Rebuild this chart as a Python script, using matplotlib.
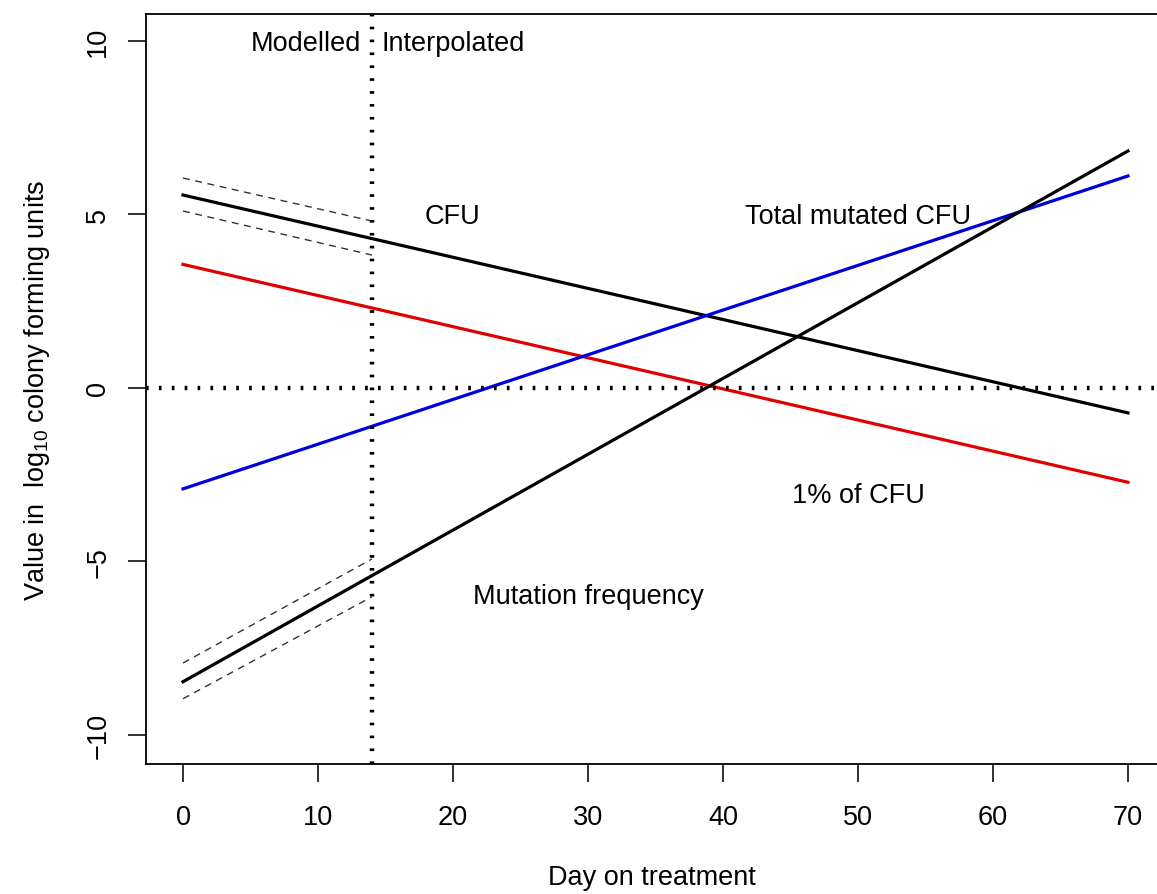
import matplotlib
matplotlib.use("Agg")
import matplotlib.pyplot as plt

plt.rcParams['font.family'] = ['Liberation Sans', 'DejaVu Sans']
plt.rcParams['mathtext.default'] = 'regular'
plt.rcParams['font.size'] = 19.5

# fitted lines, end points on day 0 and day 70
days = [0, 70]
cfu = [5.56, -0.72]
one_pct_cfu = [3.56, -2.72]
total_mutated = [-2.91, 6.11]
mut_freq = [-8.47, 6.83]

# confidence bands over the modelled period (day 0 to 14)
ci_days = [0, 14]
cfu_upper = [6.05, 4.81]
cfu_lower = [5.10, 3.83]
mf_upper = [-7.93, -4.93]
mf_lower = [-8.96, -6.02]

cutoff_day = 14

x_ticks = [0, 10, 20, 30, 40, 50, 60, 70]
y_ticks = [-10, -5, 0, 5, 10]

fig = plt.figure(figsize=(11.57, 8.95), dpi=100)
ax = fig.add_axes([0.1262, 0.1453, 0.8738, 0.838])

ax.plot(days, cfu, color='black', lw=2.3)
ax.plot(days, one_pct_cfu, color='#e00000', lw=2.3)
ax.plot(days, total_mutated, color='#0000dd', lw=2.3)
ax.plot(days, mut_freq, color='black', lw=2.3)

for band in (cfu_upper, cfu_lower, mf_upper, mf_lower):
    ax.plot(ci_days, band, color='#333333', lw=1.0, linestyle=(0, (5, 4)))

ax.axvline(cutoff_day, color='black', lw=3.2, linestyle=(0, (0.6, 2.3)))
ax.axhline(0, color='black', lw=3.2, linestyle=(0, (0.6, 2.3)))

ax.text(13.2, 9.95, 'Modelled', ha='right', va='center')
ax.text(14.7, 9.95, 'Interpolated', ha='left', va='center')
ax.text(20, 4.96, 'CFU', ha='center', va='center')
ax.text(50, 4.96, 'Total mutated CFU', ha='center', va='center')
ax.text(50, -3.1, '1% of CFU', ha='center', va='center')
ax.text(30, -6.0, 'Mutation frequency', ha='center', va='center')

ax.set_xlim(-2.74, 72.15)
ax.set_ylim(-10.84, 10.78)
ax.set_xticks(x_ticks)
ax.set_yticks(y_ticks)
ax.set_yticklabels([str(v).replace('-', '\u2212') for v in y_ticks],
                   rotation=90, va='center')

ax.spines['right'].set_visible(False)
for s in ('left', 'bottom', 'top'):
    ax.spines[s].set_linewidth(1.3)
ax.tick_params(axis='both', length=13, width=1.3, color='#222222')
ax.tick_params(axis='x', pad=16)
ax.tick_params(axis='y', pad=12)

ax.set_xlabel('Day on treatment', labelpad=24)
ax.set_ylabel('Value in  log$_{10}$ colony forming units', labelpad=24)

fig.savefig('out.png', dpi=100)
